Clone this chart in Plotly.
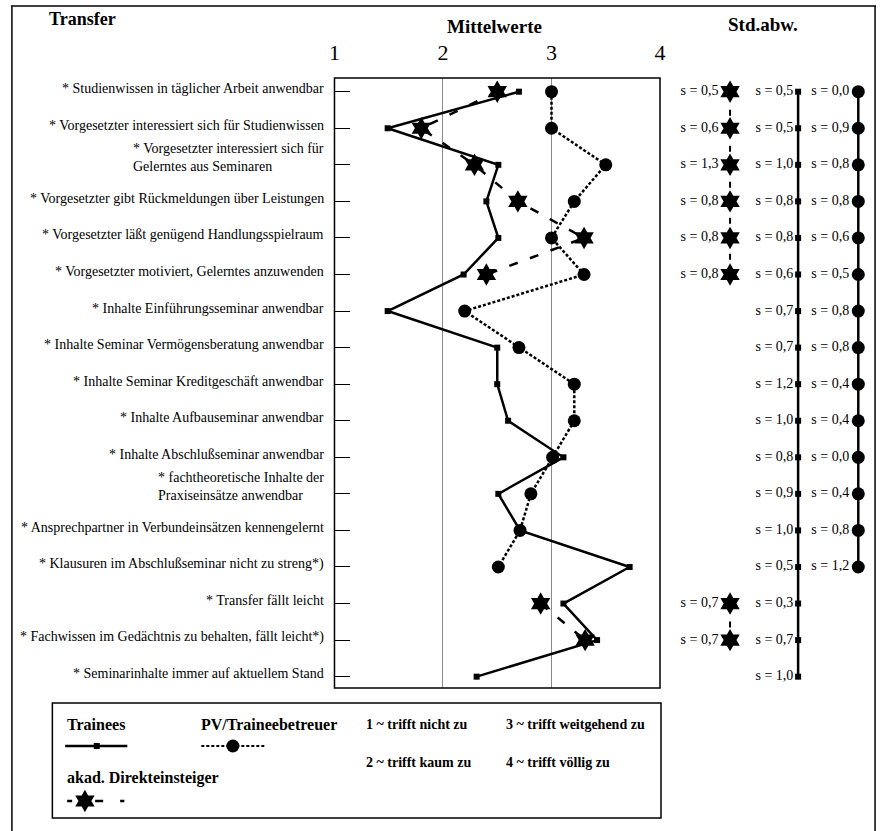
import plotly.graph_objects as go

W, H = 885, 831

# ---------------- data ----------------
categories = [
    "* Studienwissen in täglicher Arbeit anwendbar",
    "* Vorgesetzter interessiert sich für Studienwissen",
    "* Vorgesetzter interessiert sich für<br>Gelerntes aus Seminaren",
    "* Vorgesetzter gibt Rückmeldungen über Leistungen",
    "* Vorgesetzter läßt genügend Handlungsspielraum",
    "* Vorgesetzter motiviert, Gelerntes anzuwenden",
    "* Inhalte Einführungsseminar anwendbar",
    "* Inhalte Seminar Vermögensberatung anwendbar",
    "* Inhalte Seminar Kreditgeschäft anwendbar",
    "* Inhalte Aufbauseminar anwendbar",
    "* Inhalte Abschlußseminar anwendbar",
    "* fachtheoretische Inhalte der<br>Praxiseinsätze anwendbar",
    "* Ansprechpartner in Verbundeinsätzen kennengelernt",
    "* Klausuren im Abschlußseminar nicht zu streng*)",
    "* Transfer fällt leicht",
    "* Fachwissen im Gedächtnis zu behalten, fällt leicht*)",
    "* Seminarinhalte immer auf aktuellem Stand",
]
trainees_mean = [2.70, 1.49, 2.51, 2.40, 2.51, 2.19, 1.49, 2.50, 2.50, 2.60,
                 3.11, 2.51, 2.71, 3.72, 3.11, 3.42, 2.31]
pv_mean = [3.00, 3.00, 3.50, 3.21, 3.00, 3.30, 2.20, 2.70, 3.21, 3.21,
           3.01, 2.81, 2.71, 2.51, None, None, None]
akad_mean = [2.50, 1.80, 2.29, 2.69, 3.30, 2.40, None, None, None, None,
             None, None, None, None, 2.90, 3.31, None]

trainees_sd = [0.5, 0.5, 1.0, 0.8, 0.8, 0.6, 0.7, 0.7, 1.2, 1.0,
               0.8, 0.9, 1.0, 0.5, 0.3, 0.7, 1.0]
pv_sd = [0.0, 0.9, 0.8, 0.8, 0.6, 0.5, 0.8, 0.8, 0.4, 0.4,
         0.0, 0.4, 0.8, 1.2, None, None, None]
akad_sd = [0.5, 0.6, 1.3, 0.8, 0.8, 0.8, None, None, None, None,
           None, None, None, None, 0.7, 0.7, None]

scale_ticks = [1, 2, 3, 4]
scale_labels = ["1 ~ trifft nicht zu", "2 ~ trifft kaum zu",
                "3 ~ trifft weitgehend zu", "4 ~ trifft völlig zu"]

series_names = ["Trainees", "PV/Traineebetreuer", "akad. Direkteinsteiger"]

# ---------------- layout helpers ----------------
FONT = "Liberation Serif, Times New Roman, serif"
rows = list(range(len(categories)))


def px_x(p):
    return p / W


def px_y(p):
    return 1 - p / H


plot_left, plot_right, plot_top, plot_bottom = 333, 663, 78, 688
row0_px, row_step = 91.7, 36.56
y_lo = (plot_top - row0_px) / row_step
y_hi = (plot_bottom - row0_px) / row_step

# std columns (pixel positions in std panel axis)
std_cols = {"akad": 734, "trainees": 803, "pv": 864}


def fmt_sd(v):
    return None if v is None else ("s = %.1f" % v).replace(".", ",")


def col_x(vals, pos):
    return [None if v is None else pos for v in vals]


STAR = 17
CIRC = 13
SQ = 6

fig = go.Figure()

line_w = 2.5
# ---- main chart traces ----
fig.add_trace(go.Scatter(
    x=trainees_mean, y=rows, mode="lines+markers", name=series_names[0],
    line=dict(color="black", width=line_w),
    marker=dict(symbol="square", size=SQ, color="black"),
    connectgaps=False, showlegend=False, cliponaxis=False))
fig.add_trace(go.Scatter(
    x=pv_mean, y=rows, mode="lines+markers", name=series_names[1],
    line=dict(color="black", width=line_w, dash="3px,2px"),
    marker=dict(symbol="circle", size=CIRC, color="black"),
    connectgaps=False, showlegend=False, cliponaxis=False))
fig.add_trace(go.Scatter(
    x=akad_mean, y=rows, mode="lines+markers", name=series_names[2],
    line=dict(color="black", width=line_w, dash="9px,13px"),
    marker=dict(symbol="hexagram", size=STAR, color="black"),
    connectgaps=False, showlegend=False, cliponaxis=False))

# ---- std columns ----
std_font = dict(family=FONT, size=14, color="black")
fig.add_trace(go.Scatter(
    x=col_x(akad_sd, std_cols["akad"]), y=rows, xaxis="x2", yaxis="y",
    mode="lines+markers+text", text=[fmt_sd(v) for v in akad_sd],
    textposition="middle left", textfont=std_font,
    line=dict(color="black", width=2, dash="6px,12px"),
    marker=dict(symbol="hexagram", size=STAR, color="black"),
    connectgaps=False, showlegend=False, cliponaxis=False))
fig.add_trace(go.Scatter(
    x=col_x(trainees_sd, std_cols["trainees"]), y=rows, xaxis="x2", yaxis="y",
    mode="lines+markers+text", text=[fmt_sd(v) for v in trainees_sd],
    textposition="middle left", textfont=std_font,
    line=dict(color="black", width=2.5),
    marker=dict(symbol="square", size=SQ, color="black"),
    connectgaps=False, showlegend=False, cliponaxis=False))
fig.add_trace(go.Scatter(
    x=col_x(pv_sd, std_cols["pv"]), y=rows, xaxis="x2", yaxis="y",
    mode="lines+markers+text", text=[fmt_sd(v) for v in pv_sd],
    textposition="middle left", textfont=std_font,
    line=dict(color="black", width=2.5),
    marker=dict(symbol="circle", size=CIRC, color="black"),
    connectgaps=False, showlegend=False, cliponaxis=False))

# ---- legend samples (pixel axis) ----
fig.add_trace(go.Scatter(
    x=[60, 123], y=[746, 746], xaxis="x3", yaxis="y3",
    mode="lines", line=dict(color="black", width=2.5),
    showlegend=False, cliponaxis=False, hoverinfo="skip"))
fig.add_trace(go.Scatter(
    x=[92], y=[746], xaxis="x3", yaxis="y3",
    mode="markers", marker=dict(symbol="square", size=SQ, color="black"),
    showlegend=False, cliponaxis=False, hoverinfo="skip"))
fig.add_trace(go.Scatter(
    x=[198, 262], y=[746, 746], xaxis="x3", yaxis="y3",
    mode="lines", line=dict(color="black", width=2, dash="3px,2px"),
    showlegend=False, cliponaxis=False, hoverinfo="skip"))
fig.add_trace(go.Scatter(
    x=[230], y=[746], xaxis="x3", yaxis="y3",
    mode="markers", marker=dict(symbol="circle", size=CIRC, color="black"),
    showlegend=False, cliponaxis=False, hoverinfo="skip"))
fig.add_trace(go.Scatter(
    x=[62, 120], y=[801, 801], xaxis="x3", yaxis="y3",
    mode="lines",
    line=dict(color="black", width=2.5, dash="5px,23px,8px,17px,5px,100px"),
    showlegend=False, cliponaxis=False, hoverinfo="skip"))
fig.add_trace(go.Scatter(
    x=[80], y=[801], xaxis="x3", yaxis="y3",
    mode="markers", marker=dict(symbol="hexagram", size=STAR, color="black"),
    showlegend=False, cliponaxis=False, hoverinfo="skip"))

# ---------------- annotations ----------------
ann = []
for i, lab in enumerate(categories):
    two = "<br>" in lab
    ann.append(dict(
        text=lab, xref="paper", yref="y", x=px_x(324), y=i,
        xanchor="right", yanchor="middle", align="left", showarrow=False,
        yshift=7 if two else 3,
        font=dict(family=FONT, size=14, color="black")))

bold = dict(family=FONT, color="black")
ann.append(dict(text="<b>Transfer</b>", xref="paper", yref="paper",
                x=px_x(42), y=px_y(19), xanchor="left", yanchor="middle",
                showarrow=False, font=dict(size=18, **bold)))
ann.append(dict(text="<b>Mittelwerte</b>", xref="paper", yref="paper",
                x=px_x(495), y=px_y(26), xanchor="center", yanchor="middle",
                showarrow=False, font=dict(size=19, **bold)))
ann.append(dict(text="<b>Std.abw.</b>", xref="paper", yref="paper",
                x=px_x(767), y=px_y(25), xanchor="center", yanchor="middle",
                showarrow=False, font=dict(size=19, **bold)))

# legend texts
ann.append(dict(text="<b>%s</b>" % series_names[0], xref="paper", yref="paper",
                x=px_x(60), y=px_y(724), xanchor="left", yanchor="middle",
                showarrow=False, font=dict(size=16, **bold)))
ann.append(dict(text="<b>%s</b>" % series_names[1], xref="paper", yref="paper",
                x=px_x(196), y=px_y(724), xanchor="left", yanchor="middle",
                showarrow=False, font=dict(size=16, **bold)))
ann.append(dict(text="<b>%s</b>" % series_names[2], xref="paper", yref="paper",
                x=px_x(60), y=px_y(778), xanchor="left", yanchor="middle",
                showarrow=False, font=dict(size=16, **bold)))
scale_pos = [(363, 724), (363, 762), (505, 724), (505, 762)]
for lab, (sx, sy) in zip(scale_labels, scale_pos):
    ann.append(dict(text="<b>%s</b>" % lab, xref="paper", yref="paper",
                    x=px_x(sx), y=px_y(sy), xanchor="left", yanchor="middle",
                    showarrow=False, font=dict(size=14, **bold)))

# ---------------- shapes ----------------
shapes = [
    # main plot frame
    dict(type="rect", xref="paper", yref="paper",
         x0=px_x(plot_left), x1=px_x(plot_right),
         y0=px_y(plot_bottom), y1=px_y(plot_top),
         line=dict(color="black", width=1.5)),
    # legend box
    dict(type="rect", xref="paper", yref="paper",
         x0=px_x(47), x1=px_x(664), y0=px_y(818), y1=px_y(703),
         line=dict(color="black", width=1.5)),
    # outer border (top, left, right)
    dict(type="line", xref="paper", yref="paper",
         x0=px_x(5), x1=px_x(882), y0=px_y(6), y1=px_y(6),
         line=dict(color="black", width=1.5)),
    dict(type="line", xref="paper", yref="paper",
         x0=px_x(6), x1=px_x(6), y0=px_y(6), y1=px_y(831),
         line=dict(color="black", width=1.5)),
    dict(type="line", xref="paper", yref="paper",
         x0=px_x(881), x1=px_x(881), y0=px_y(6), y1=px_y(831),
         line=dict(color="black", width=1.5)),
]

fig.update_layout(
    width=W, height=H,
    margin=dict(l=0, r=0, t=0, b=0),
    paper_bgcolor="white", plot_bgcolor="rgba(0,0,0,0)",
    font=dict(family=FONT, color="black"),
    xaxis=dict(domain=[px_x(plot_left), px_x(plot_right)],
               range=[1, 4], side="top", tickvals=scale_ticks,
               ticktext=[str(t) for t in scale_ticks], ticks="",
               tickfont=dict(family=FONT, size=22, color="black"),
               ticklabelstandoff=13,
               showgrid=True, gridcolor="#8a8a8a", gridwidth=1,
               zeroline=False, showline=False, anchor="y", fixedrange=True),
    yaxis=dict(domain=[px_y(plot_bottom), px_y(plot_top)],
               range=[y_hi, y_lo], tickvals=rows, showticklabels=False,
               ticks="inside", ticklen=16, tickwidth=1, tickcolor="black",
               showgrid=False, zeroline=False, showline=False,
               anchor="x", fixedrange=True),
    xaxis2=dict(domain=[px_x(665), 1], range=[665, 885], visible=False,
                anchor="y", fixedrange=True),
    xaxis3=dict(domain=[0, 1], range=[0, W], visible=False,
                anchor="y3", fixedrange=True),
    yaxis3=dict(domain=[0, 1], range=[H, 0], visible=False,
                anchor="x3", fixedrange=True),
    annotations=ann, shapes=shapes,
)

fig.write_html(
    "out.html",
    config={"displayModeBar": False},
    post_script="document.body.style.margin='0';"
                "document.body.style.overflow='hidden';",
)
